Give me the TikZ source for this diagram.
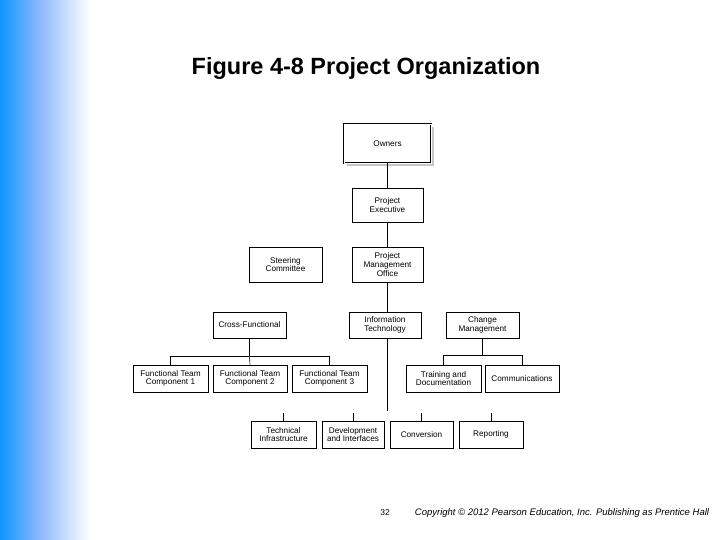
\documentclass[tikz,border=0pt]{standalone}
\usepackage{fontspec}
\setmainfont{Liberation Sans}
\definecolor{edgeblue}{RGB}{15,150,255}
\definecolor{midblue}{RGB}{140,185,255}
\begin{document}
\begin{tikzpicture}[x=1pt,y=-1pt,
  box/.style={draw=black,line width=0.6pt,fill=white,inner sep=0pt,align=center,font=\fontsize{8.2}{8.6}\selectfont},
  conn/.style={line width=0.6pt}]
\useasboundingbox (0,0) rectangle (720,540);
\fill[white] (0,0) rectangle (720,540);
\shade[left color=edgeblue,right color=midblue] (0,0) rectangle (40,540);
\shade[left color=midblue,right color=white] (40,0) rectangle (90,540);
\node[font=\bfseries\fontsize{23.5}{26}\selectfont] (title) at (366,68) {Figure 4-8 Project Organization};
\newcommand\bx[6]{\node[box,minimum width=#4-#2,minimum height=#5-#3] (#1) at ({(#2+#4)/2},{(#3+#5)/2}) {#6};}
\fill[gray!45] (347,127) rectangle (434,166);
\node[box,minimum width=87,minimum height=39,double,double distance=0.8pt] (own) at (387.5,143.5) {Owners};
\bx{pe}{352}{188}{423}{222}{Project\\Executive}
\bx{sc}{249}{247}{322}{282}{Steering\\Committee}
\bx{pmo}{352}{247}{423}{282}{Project\\Management\\Office}
\bx{cf}{213}{312}{286}{338}{Cross-Functional}
\bx{it}{349}{312}{421}{338}{Information\\Technology}
\bx{cm}{446}{312}{519}{338}{Change\\Management}
\bx{f1}{133}{365}{208}{392}{Functional Team\\Component 1}
\bx{f2}{213}{365}{287}{392}{Functional Team\\Component 2}
\bx{f3}{292}{365}{367}{392}{Functional Team\\Component 3}
\bx{tr}{406}{365}{481}{392}{Training and\\Documentation}
\bx{co}{485}{365}{559}{392}{Communications}
\bx{ti}{251}{421}{316}{448}{Technical\\Infrastructure}
\bx{di}{322}{421}{384}{448}{Development\\and Interfaces}
\bx{cv}{390}{421}{453}{448}{Conversion}
\bx{rp}{459}{421}{523}{448}{Reporting}
\coordinate (itend) at (387.5,411);
\draw[conn] (own.south) -- (pe.north);
\draw[conn] (pe.south) -- (pmo.north);
\draw[conn] (pmo.south) -- (pmo.south |- it.north);
\draw[conn] (pmo.south |- it.south) -- (itend);
\draw[conn] (cf.south) -- ++(0,18) coordinate (cfh);
\draw[conn] (f1.north) -- (f1.north |- cfh) -- (f3.north |- cfh) -- (f3.north);
\draw[conn] (cfh) -- (f2.north);
\draw[conn] (cm.south) -- ++(0,17) coordinate (cmh);
\draw[conn] (tr.north) -- (tr.north |- cmh) -- (co.north |- cmh) -- (co.north);
\foreach \n in {ti,di,cv,rp} \draw[conn] (\n.north) -- ++(0,-8);
\node[font=\fontsize{8.5}{10}\selectfont] (pg) at (385,513) {32};
\node[font=\itshape\fontsize{9.5}{11}\selectfont] (copy) at (562,513) {Copyright © 2012 Pearson Education, Inc. Publishing as Prentice Hall};
\end{tikzpicture}
\end{document}
